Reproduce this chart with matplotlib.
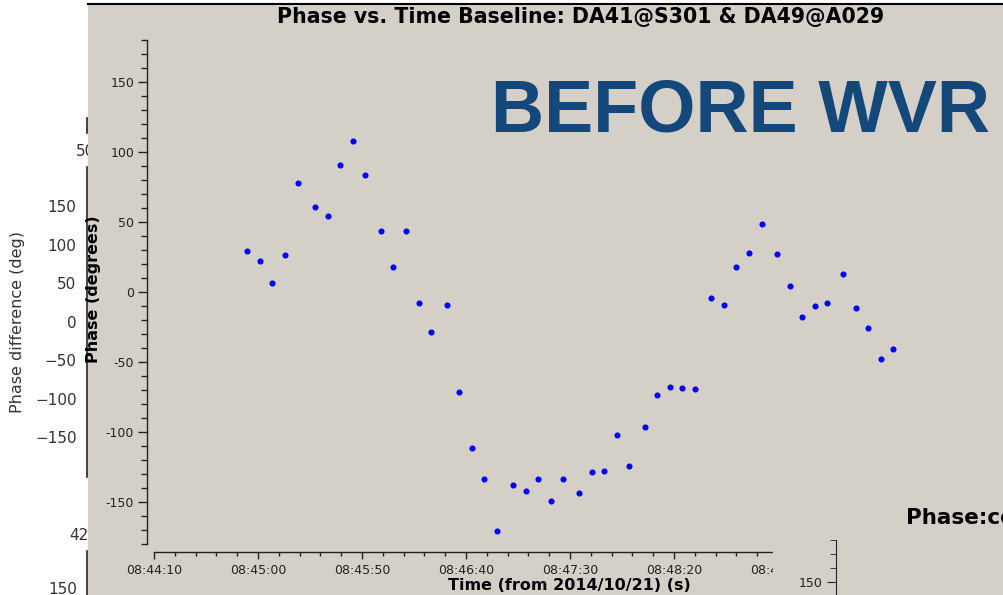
"""Phase vs. time screenshot collage (before WVR correction)."""

import matplotlib
matplotlib.use("Agg")
import matplotlib.pyplot as plt
from matplotlib.patches import Rectangle
from matplotlib.ticker import MultipleLocator, FuncFormatter

# ============================================================
# Data (seconds after 08:44:10, phase in degrees)
# ============================================================
t_start = 8 * 3600 + 44 * 60 + 10
t_sec = [44.9, 51.0, 56.9, 63.0, 69.1,
         77.4, 83.5, 89.6, 95.5, 101.6,
         109.0, 115.0, 121.2, 127.2, 133.2,
         140.7, 146.6, 152.7, 158.8, 164.8,
         172.8, 178.8, 184.8, 190.9, 196.8,
         204.3, 210.4, 216.3, 222.5, 228.5,
         235.9, 242.0, 248.1, 254.0, 260.1,
         267.9, 274.0, 280.0, 286.1, 292.2,
         299.5, 305.6, 311.7, 317.8, 323.7,
         331.3, 337.4, 343.3, 349.4, 355.3]
phase_deg = [29.3, 22.4, 6.4, 26.4, 77.6,
             60.5, 54.1, 90.7, 108.1, 83.8,
             43.8, 17.6, 43.8, -8.1, -28.8,
             -9.5, -71.6, -111.6, -133.8, -170.5,
             -138.1, -142.1, -133.8, -149.1, -133.8,
             -143.6, -128.4, -127.6, -102.1, -124.1,
             -96.4, -73.8, -67.5, -68.8, -69.5,
             -4.5, -9.5, 17.6, 27.9, 48.6,
             27.1, 4.3, -17.6, -10.2, -8.1,
             12.6, -11.6, -25.9, -48.1, -40.5]

left_ticks = [-150, -100, -50, 0, 50, 100, 150]

title = "Phase vs. Time Baseline: DA41@S301 & DA49@A029"
xlabel = "Time (from 2014/10/21) (s)"
ylabel = "Phase (degrees)"
banner = "BEFORE WVR"

W, H = 1004, 595
GREY = "#d4d0c8"


def fx(x):
    return x / W


def fy(y):
    return 1 - y / H


def hms(v, pos=None):
    s = int(round(t_start + v))
    return f"{s // 3600:02d}:{(s // 60) % 60:02d}:{s % 60:02d}"


fig = plt.figure(figsize=(W / 100, H / 100), dpi=100)
fig.patch.set_facecolor("white")

# -------------------- background plot (left, white) --------------------
axl = fig.add_axes([fx(87), fy(476.7), 0.05, (476.7 - 166.7) / H], zorder=0)
axl.patch.set_visible(False)
for s in ["top", "right", "bottom"]:
    axl.spines[s].set_visible(False)
axl.spines["left"].set_color("#222222")
axl.spines["left"].set_linewidth(1.2)
axl.set_ylim(-201.6, 201.6)
axl.set_yticks(left_ticks)
axl.set_xticks([])
axl.tick_params(axis="y", length=0, pad=7.5, labelsize=11, labelcolor="#333333")
axl.set_ylabel("Phase difference (deg)", fontsize=11.5, color="#333333", labelpad=7)

# -------------------- grey window + fragments --------------------
bg = fig.add_axes([0, 0, 1, 1], zorder=1)
bg.set_xlim(0, W)
bg.set_ylim(H, 0)
bg.axis("off")

frag = dict(fontsize=11, color="#333333", ha="right", va="center")
bg.text(95, 151, "50", **frag)
bg.text(98, 536, "420", **frag)
bg.text(77, 589, "150", **frag)
bg.plot([87, 87], [118, 133], color="#222222", lw=1.2, zorder=2)
bg.plot([87, 87], [551, 600], color="#222222", lw=1.2, zorder=2)

bg.add_patch(Rectangle((88, 4), W - 88, H, facecolor=GREY, edgecolor="none", zorder=5))
bg.plot([88, W], [4, 4], color="black", lw=1.5, zorder=6)

bg.text(581, 17, title, fontsize=14.8, fontweight="bold", ha="center", va="center", zorder=7)
bg.text(569, 585, xlabel, fontsize=11.5, fontweight="bold", ha="center", va="center", zorder=7)
bg.text(94, 289, ylabel, fontsize=11.5, fontweight="bold", ha="center", va="center",
        rotation=90, zorder=7)
bg.text(491, 131.7, banner, family="Liberation Sans", fontweight="bold", fontsize=53,
        color="#14477a", ha="left", va="baseline", zorder=7)

# -------------------- main plot --------------------
left_px, top_px, bot_px = 154, 40, 544
px_per_s = 2.08
right_px = 1008
ax = fig.add_axes([fx(left_px), fy(bot_px), (right_px - left_px) / W, (bot_px - top_px) / H],
                  zorder=2)
ax.patch.set_visible(False)
ax.plot(t_sec, phase_deg, "o", color="#0000ff", markersize=4.4, markeredgewidth=0)
ax.set_xlim(0, (right_px - left_px) / px_per_s)
ax.set_ylim(-180, 180)
ax.spines["top"].set_visible(False)
ax.spines["right"].set_visible(False)
ax.spines["left"].set_position(("outward", 4.8))
ax.spines["bottom"].set_position(("outward", 5.4))
for s in ["left", "bottom"]:
    ax.spines[s].set_color("#222222")
    ax.spines[s].set_linewidth(1.0)
ax.yaxis.set_major_locator(MultipleLocator(50))
ax.yaxis.set_minor_locator(MultipleLocator(10))
ax.yaxis.set_major_formatter(FuncFormatter(lambda v, p: f"{int(round(v))}"))
ax.xaxis.set_major_locator(MultipleLocator(50))
ax.xaxis.set_minor_locator(MultipleLocator(10))
ax.xaxis.set_major_formatter(FuncFormatter(hms))
ax.tick_params(axis="y", which="major", length=6.5, width=1, pad=3, labelsize=9,
               colors="#222222")
ax.tick_params(axis="y", which="minor", length=4.3, width=1, colors="#222222")
ax.tick_params(axis="x", which="major", length=4.8, width=1, pad=4, labelsize=9,
               colors="#222222")
ax.tick_params(axis="x", which="minor", length=3.1, width=1, colors="#222222")

# -------------------- overlapping window (bottom right) --------------------
top = fig.add_axes([0, 0, 1, 1], zorder=3)
top.set_xlim(0, W)
top.set_ylim(H, 0)
top.axis("off")
top.add_patch(Rectangle((773, 532), W - 773, H, facecolor=GREY, edgecolor="none"))
top.text(906, 524, "Phase:corrected vs. Time", fontsize=15.5, fontweight="bold",
         ha="left", va="baseline")

ax3 = fig.add_axes([fx(836), fy(1044), 0.3, 504 / H], zorder=4)
ax3.patch.set_visible(False)
for s in ["top", "right", "bottom"]:
    ax3.spines[s].set_visible(False)
ax3.spines["left"].set_color("#222222")
ax3.set_ylim(-180, 180)
ax3.set_xticks([])
ax3.yaxis.set_major_locator(MultipleLocator(50))
ax3.yaxis.set_minor_locator(MultipleLocator(10))
ax3.yaxis.set_major_formatter(FuncFormatter(lambda v, p: f"{int(round(v))}"))
ax3.tick_params(axis="y", which="major", length=6.5, pad=3, labelsize=9, colors="#222222")
ax3.tick_params(axis="y", which="minor", length=4.3, colors="#222222")

fig.savefig("out.png", dpi=100)
